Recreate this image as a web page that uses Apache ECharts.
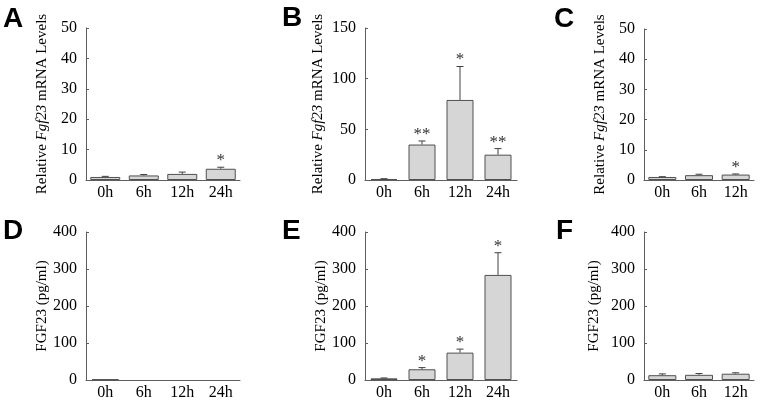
<!DOCTYPE html>
<html><head><meta charset="utf-8">
<script src="https://cdn.jsdelivr.net/npm/echarts@6/dist/echarts.min.js"></script>
<style>html,body{margin:0;padding:0;background:#fff}#c{width:764px;height:401px}</style>
</head><body><div id="c"></div>
<script>
const cats4 = ['0h', '6h', '12h', '24h'];
const cats3 = ['0h', '6h', '12h'];
const meanA = [1.0, 1.5, 2.0, 3.7];
const errA = [0.2, 0.3, 0.6, 0.5];
const starA = ['', '', '', '*'];
const meanB = [1.0, 35, 79, 25];
const errB = [0.3, 3.5, 33, 6];
const starB = ['', '**', '*', '**'];
const meanC = [1.0, 1.6, 1.8];
const errC = [0.1, 0.3, 0.2];
const starC = ['', '', '*'];
const meanD = [1.5, '-', '-', '-'];
const errD = [0, 0, 0, 0];
const starD = ['', '', '', ''];
const meanE = [4.5, 29, 74, 284];
const errE = [1, 4.5, 9.5, 60];
const starE = ['', '*', '*', '*'];
const meanF = [13, 14, 17];
const errF = [3.5, 3.5, 2.5];
const starF = ['', '', ''];
const yMaxTop = [50, 150, 50];
const yIntTop = [10, 50, 10];
const yMaxBot = 400, yIntBot = 100;
const letters = ['A', 'B', 'C', 'D', 'E', 'F'];

const panels = [
  {cats: cats4, mean: meanA, err: errA, star: starA, max: yMaxTop[0], int: yIntTop[0], mrna: true,
   grid: {left: 86, top: 28, width: 154, height: 152}, bw: 30, gap: 36, letter: [3, 5]},
  {cats: cats4, mean: meanB, err: errB, star: starB, max: yMaxTop[1], int: yIntTop[1], mrna: true,
   grid: {left: 365, top: 28, width: 152, height: 152}, bw: 27, gap: 39, letter: [282, 4]},
  {cats: cats3, mean: meanC, err: errC, star: starC, max: yMaxTop[2], int: yIntTop[2], mrna: true,
   grid: {left: 644, top: 29, width: 110, height: 151}, bw: 28, gap: 36, letter: [554, 5]},
  {cats: cats4, mean: meanD, err: errD, star: starD, max: yMaxBot, int: yIntBot, mrna: false,
   grid: {left: 86, top: 232, width: 154, height: 151}, bw: 27, gap: 35, letter: [3, 217]},
  {cats: cats4, mean: meanE, err: errE, star: starE, max: yMaxBot, int: yIntBot, mrna: false,
   grid: {left: 365, top: 232, width: 152, height: 151}, bw: 27, gap: 36, letter: [282, 217]},
  {cats: cats3, mean: meanF, err: errF, star: starF, max: yMaxBot, int: yIntBot, mrna: false,
   grid: {left: 644, top: 232, width: 110, height: 151}, bw: 28, gap: 42, letter: [556, 217]}
];

const serif = 'Liberation Serif';
const axisColor = '#5e5e5e';
const option = {
  animation: false,
  backgroundColor: '#fff',
  title: [], grid: [], xAxis: [], yAxis: [], series: []
};

panels.forEach((p, i) => {
  option.title.push({
    text: letters[i], left: p.letter[0], top: p.letter[1], padding: 0,
    textStyle: {fontFamily: 'Liberation Sans', fontWeight: 'bold', fontSize: 28, color: '#000'}
  });
  option.grid.push(p.grid);
  option.xAxis.push({
    type: 'category', gridIndex: i, data: p.cats,
    axisLine: {lineStyle: {color: axisColor, width: 1}},
    axisTick: {show: false},
    axisLabel: {fontFamily: serif, fontSize: 16, color: '#000', margin: 5}
  });
  option.yAxis.push({
    type: 'value', gridIndex: i, min: 0, max: p.max, interval: p.int,
    splitLine: {show: false},
    axisLine: {show: true, lineStyle: {color: axisColor, width: 1}},
    axisTick: {show: true, inside: true, length: 3, lineStyle: {color: axisColor}},
    axisLabel: {fontFamily: serif, fontSize: 16, color: '#000', margin: 9},
    name: p.mrna ? '{n|Relative }{i|Fgf23}{n| mRNA Levels}' : 'FGF23 (pg/ml)',
    nameLocation: 'middle', nameRotate: 90, nameGap: p.gap,
    nameTextStyle: {
      fontFamily: serif, fontSize: 15, color: '#000',
      rich: {n: {fontFamily: serif, fontSize: 15, color: '#000'},
             i: {fontFamily: serif, fontSize: 15, color: '#000', fontStyle: 'italic'}}
    }
  });
  option.series.push({
    type: 'bar', xAxisIndex: i, yAxisIndex: i, data: p.mean, barWidth: p.bw,
    itemStyle: {color: '#d6d6d6', borderColor: '#505050', borderWidth: 1}
  });
  const ed = p.mean.map((m, k) => m === '-' ? null : [k, m, p.err[k], p.star[k]]).filter(d => d);
  option.series.push({
    type: 'custom', xAxisIndex: i, yAxisIndex: i, data: ed, z: 5,
    renderItem: function (params, api) {
      const k = api.value(0), m = api.value(1), e = api.value(2);
      const star = ed[params.dataIndex][3];
      const p0 = api.coord([k, m]);
      const p1 = api.coord([k, m + e]);
      const children = [];
      if (e > 0) {
        children.push({type: 'line', shape: {x1: p0[0], y1: p0[1], x2: p1[0], y2: p1[1]},
          style: {stroke: '#404040', lineWidth: 1}});
        children.push({type: 'line', shape: {x1: p1[0] - 3.5, y1: p1[1], x2: p1[0] + 3.5, y2: p1[1]},
          style: {stroke: '#404040', lineWidth: 1}});
      }
      if (star) {
        children.push({type: 'text', x: p1[0], y: p1[1] + 2,
          style: {text: star, fontFamily: serif, fontSize: 17, fill: '#333', align: 'center', verticalAlign: 'bottom'}});
      }
      return {type: 'group', children: children};
    }
  });
});

const chart = echarts.init(document.getElementById('c'), null, {renderer: 'canvas'});
chart.setOption(option);
</script></body></html>
